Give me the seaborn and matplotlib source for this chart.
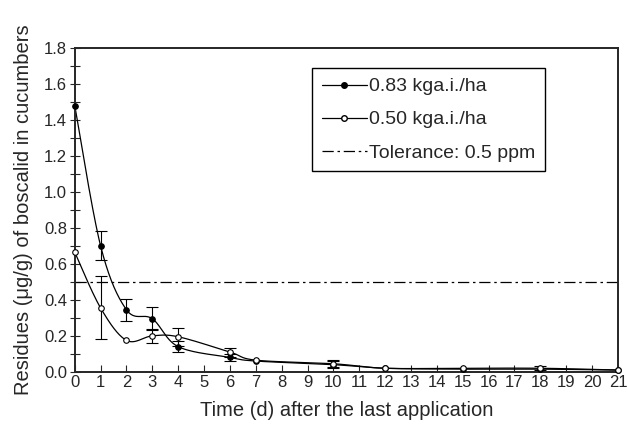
import numpy as np
import pandas as pd
import matplotlib
matplotlib.use("Agg")
import matplotlib.pyplot as plt
import seaborn as sns
from matplotlib.lines import Line2D
from matplotlib.ticker import MultipleLocator, FormatStrFormatter

# days after the last application
days = [0, 1, 2, 3, 4, 6, 7, 10, 12, 15, 18, 21]

# residues for the two dosages (ug/g) and their error bars
res_083 = [1.48, 0.70, 0.345, 0.295, 0.14, 0.08, 0.06, 0.04, 0.02, 0.015, 0.015, 0.01]
err_083 = [0.0, 0.08, 0.06, 0.065, 0.03, 0.02, 0.0, 0.02, 0.0, 0.0, 0.0, 0.0]
res_050 = [0.665, 0.355, 0.175, 0.20, 0.195, 0.11, 0.065, 0.045, 0.02, 0.02, 0.02, 0.01]
err_050 = [0.0, 0.175, 0.0, 0.04, 0.05, 0.025, 0.0, 0.02, 0.0, 0.0, 0.01, 0.0]

tolerance = 0.5

df = pd.DataFrame({"Day": days, "R083": res_083, "E083": err_083,
                   "R050": res_050, "E050": err_050})


def smooth(x, y, n=30):
    # catmull-rom curve through the measured points, only for drawing the line
    x = np.asarray(x, float)
    y = np.asarray(y, float)
    px = np.concatenate([[x[0]], x, [x[-1]]])
    py = np.concatenate([[y[0]], y, [y[-1]]])
    xs, ys = [], []
    t = np.linspace(0, 1, n)
    for i in range(1, len(px) - 2):
        for p, out in ((px, xs), (py, ys)):
            p0, p1, p2, p3 = p[i - 1], p[i], p[i + 1], p[i + 2]
            out.extend(0.5 * (2 * p1 + (-p0 + p2) * t
                              + (2 * p0 - 5 * p1 + 4 * p2 - p3) * t ** 2
                              + (-p0 + 3 * p1 - 3 * p2 + p3) * t ** 3))
    return np.array(xs), np.array(ys)


sns.set_style("ticks")
plt.rcParams["font.family"] = ["Liberation Sans", "DejaVu Sans"]

fig = plt.figure(figsize=(6.28, 4.24), dpi=100)
ax = fig.add_axes([0.119, 0.123, 0.865, 0.764])

for col, err, face in (("R083", "E083", "black"), ("R050", "E050", "white")):
    sx, sy = smooth(df["Day"], df[col])
    sns.lineplot(x=sx, y=sy, ax=ax, color="black", lw=0.9, sort=False)
    mask = df[err] > 0
    ax.errorbar(df["Day"][mask], df[col][mask], yerr=df[err][mask], fmt="none",
                ecolor="black", elinewidth=0.8, capsize=4, capthick=0.8)
    ax.plot(df["Day"], df[col], "o", ms=4, mfc=face, mec="black", mew=0.8, zorder=5, clip_on=False)

ax.axhline(tolerance, color="black", lw=0.9, dashes=(9, 3, 2, 3))

ax.set_xlim(0, 21)
ax.set_ylim(0, 1.8)
ax.set_xticks(range(0, 22))
ax.yaxis.set_major_locator(MultipleLocator(0.2))
ax.yaxis.set_minor_locator(MultipleLocator(0.1))
ax.yaxis.set_major_formatter(FormatStrFormatter("%.1f"))
ax.tick_params(axis="x", direction="in", length=5, width=0.8, labelsize=12, pad=2)
ax.tick_params(axis="y", which="both", direction="inout", length=7, width=0.8, labelsize=12, pad=2)
for s in ax.spines.values():
    s.set_linewidth(1.4)
    s.set_visible(True)

ax.set_xlabel("Time (d) after the last application", fontsize=14.5, labelpad=8)
ax.set_ylabel("Residues (\u03bcg/g) of boscalid in cucumbers", fontsize=14.5, labelpad=8)

handles = [
    Line2D([], [], color="black", lw=0.9, marker="o", ms=4, mfc="black", mec="black"),
    Line2D([], [], color="black", lw=0.9, marker="o", ms=4, mfc="white", mec="black"),
    Line2D([], [], color="black", lw=0.9, dashes=(9, 3, 2, 3)),
]
leg = ax.legend(handles, ["0.83 kga.i./ha", "0.50 kga.i./ha", "Tolerance: 0.5 ppm"],
                loc="upper left", bbox_to_anchor=(0.437, 0.938), borderaxespad=0,
                fontsize=14, frameon=True, fancybox=False, edgecolor="black",
                framealpha=1, handlelength=2.3, labelspacing=0.8, borderpad=0.5,
                handletextpad=0.15)
leg.get_frame().set_linewidth(1.0)

fig.savefig("out.png", dpi=100)
